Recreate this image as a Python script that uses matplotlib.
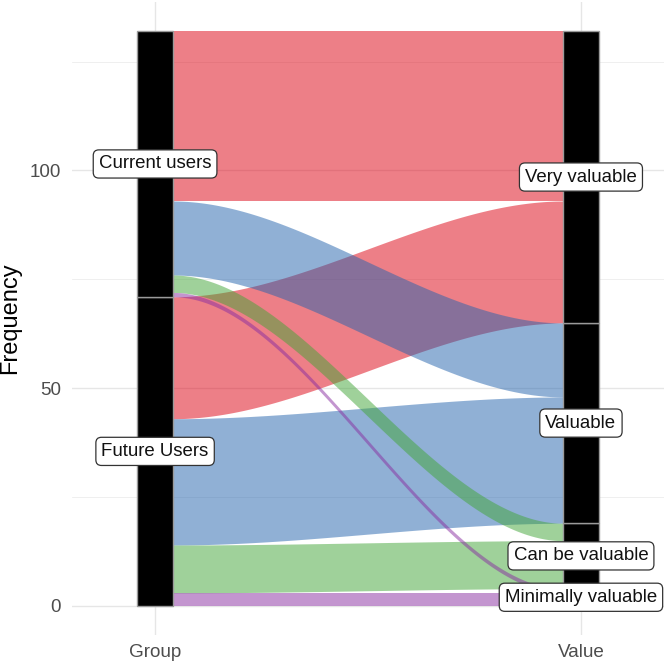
import numpy as np
import matplotlib.pyplot as plt
from matplotlib.patches import Rectangle

plt.rcParams['font.family'] = ['Liberation Sans', 'DejaVu Sans']

# strata, listed bottom to top
groups = ['Future Users', 'Current users']
values = ['Minimally valuable', 'Can be valuable', 'Valuable', 'Very valuable']
# counts per group, in the order of `values`
future_counts = [3, 11, 29, 28]
current_counts = [1, 4, 17, 39]
fill_colors = ['#892DA1', '#41A537', '#2363AD', '#DD0011']
axis_labels = ['Group', 'Value']

counts = np.array([future_counts, current_counts], dtype=float)  # (group, value)
n_g, n_v = counts.shape

# left axis: stack by group, then value inside each group
left_bottom = np.zeros_like(counts)
pos = 0.0
for g in range(n_g):
    for v in range(n_v):
        left_bottom[g, v] = pos
        pos += counts[g, v]

# right axis: stack by value, then group inside each value
right_bottom = np.zeros_like(counts)
pos = 0.0
for v in range(n_v):
    for g in range(n_g):
        right_bottom[g, v] = pos
        pos += counts[g, v]

w = 1 / 12  # stratum width
alpha = 0.5

fig = plt.figure(figsize=(6.67, 6.67), dpi=100)
ax = fig.add_axes([0.108, 0.0484, 0.8875, 0.948])

# grid (theme_minimal look)
for y in [0, 50, 100]:
    ax.axhline(y, color='#E6E6E6', lw=1.0, zorder=0)
for y in [25, 75, 125]:
    ax.axhline(y, color='#EDEDED', lw=0.6, zorder=0)
for x in [1, 2]:
    ax.axvline(x, color='#E6E6E6', lw=1.0, zorder=0)

# flows
x0, x1 = 1 + w / 2, 2 - w / 2
t = np.linspace(0, 1, 300)
s = 3 * t**2 - 2 * t**3
xs = x0 + (x1 - x0) * t
for v in [3, 2, 1, 0]:
    for g in range(n_g):
        lb, rb, c = left_bottom[g, v], right_bottom[g, v], counts[g, v]
        y_lo = lb + (rb - lb) * s
        ax.fill_between(xs, y_lo, y_lo + c, color=fill_colors[v], alpha=alpha,
                        lw=0, zorder=2)

# strata + labels
def draw_strata(x, names, totals):
    b = 0.0
    for name, tot in zip(names, totals):
        ax.add_patch(Rectangle((x - w / 2, b), w, tot, facecolor='black',
                               edgecolor='#9A9A9A', lw=1.0, zorder=3))
        ax.text(x, b + tot / 2, name, ha='center', va='center', fontsize=13.4,
                color='#111111', zorder=4,
                bbox=dict(boxstyle='round,pad=0.3,rounding_size=0.3',
                          fc='white', ec='#333333', lw=0.9))
        b += tot

draw_strata(1, groups, counts.sum(axis=1))
draw_strata(2, values, counts.sum(axis=0))

ax.set_xlim(0.805, 2.195)
ax.set_ylim(-6.6, 138.6)
ax.set_xticks([1, 2])
ax.set_xticklabels(axis_labels)
ax.set_yticks([0, 50, 100])
for sp in ax.spines.values():
    sp.set_visible(False)
ax.tick_params(length=0, labelsize=13.6, colors='#4D4D4D')
ax.tick_params(axis='y', pad=8)
ax.tick_params(axis='x', pad=7)
ax.set_ylabel('Frequency', fontsize=17, labelpad=6)

fig.savefig('out.png', dpi=100)
